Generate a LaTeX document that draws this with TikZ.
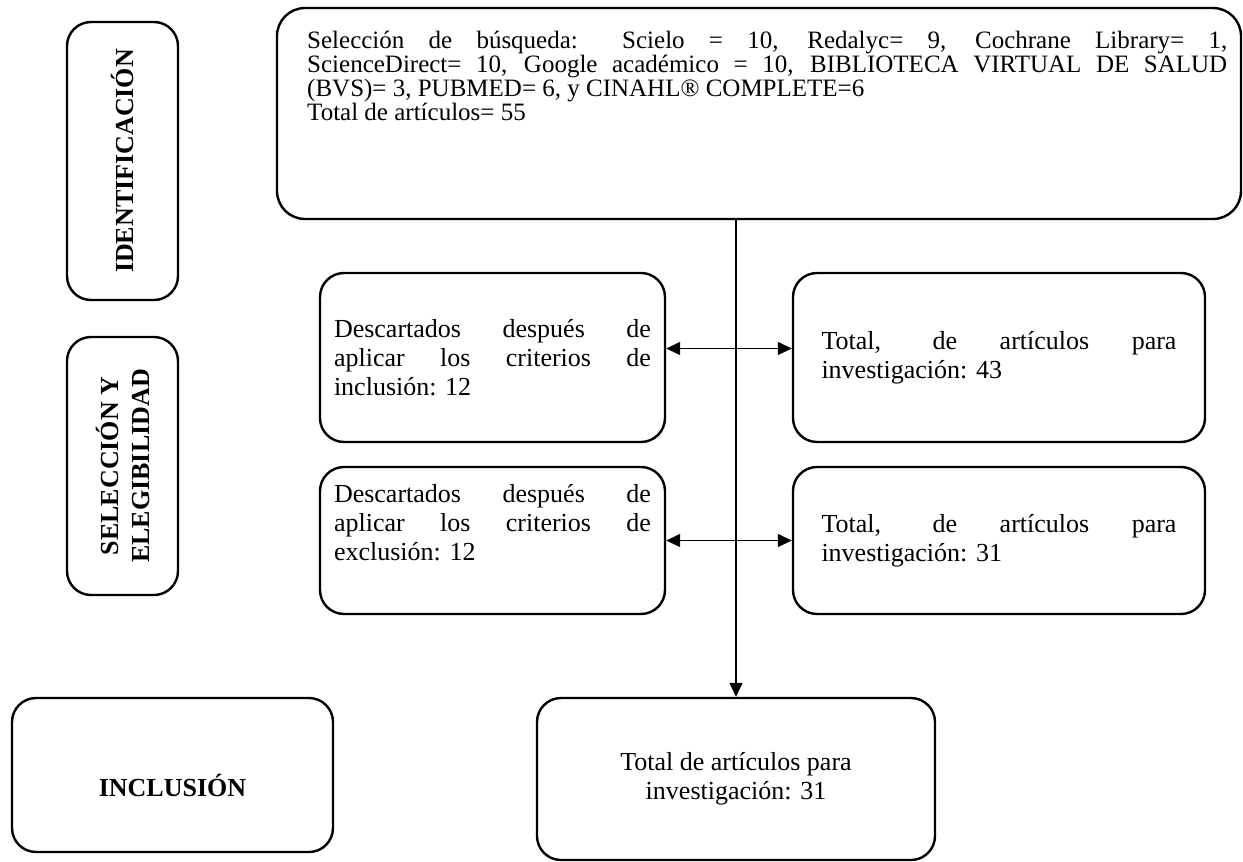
\documentclass[tikz,border=0pt]{standalone}
\usepackage{fontspec}
\setmainfont{Liberation Serif}
\usetikzlibrary{positioning, arrows.meta}
\newcommand{\ux}{0.5pt}

\begin{document}
\begin{tikzpicture}[
        x=0.5pt, y=-0.5pt,
        frame/.style={draw, line width=1.2pt, rounded corners=12pt, inner sep=0pt},
        stagebox/.style={frame, align=center, font=\bfseries\fontsize{13}{15.5}\selectfont},
        infobox/.style={frame, align=justify, font=\fontsize{13}{14.5}\selectfont},
        arrow/.style={-{Triangle[length=7pt, width=6.5pt]}, line width=0.7pt},
        biarrow/.style={{Triangle[length=7pt, width=6.5pt]}-{Triangle[length=7pt, width=6.5pt]}, line width=0.7pt}
    ]
    \useasboundingbox (0,0) rectangle (1243,862);

    % Stages on the left
    \node[stagebox, rotate=90, minimum width=278*\ux, minimum height=111*\ux] (ident) at (122.5,161) {IDENTIFICACIÓN};
    \node[stagebox, rotate=90, minimum width=258*\ux, minimum height=111*\ux] (selec) at (122.5,466) {SELECCIÓN Y\\ELEGIBILIDAD};
    \node[stagebox, minimum width=321*\ux, minimum height=154*\ux, text height=21pt, text depth=0pt] (inclu) at (172.5,775) {INCLUSIÓN};

    % Search box
    \node[frame, rounded corners=14pt, minimum width=964*\ux, minimum height=211*\ux] (topbox) at (759,113.5) {};
    \node[anchor=north west, align=justify, inner sep=0pt, text width=920*\ux, font=\fontsize{12.5}{12}\selectfont] (toptext)
        at ([xshift=15.5pt, yshift=-12pt]topbox.north west)
        {Selección de búsqueda: Scielo = 10, Redalyc= 9, Cochrane Library= 1,\linebreak
         ScienceDirect= 10, Google académico = 10, BIBLIOTECA VIRTUAL DE SALUD\linebreak
         (BVS)= 3, PUBMED= 6, y CINAHL® COMPLETE=6\\
         Total de artículos= 55};

    % Filtering rows
    \node[infobox, minimum width=345*\ux, minimum height=169*\ux, inner xsep=14*\ux, text width=317*\ux] (desc1) at (492.5,357.5)
        {Descartados después de\linebreak aplicar los criterios de\linebreak inclusión: 12};
    \node[infobox, minimum width=412*\ux, minimum height=169*\ux, inner xsep=28.5*\ux, text width=355*\ux] (tot1) at (999,357.5)
        {Total, de artículos para\linebreak investigación: 43};
    \node[infobox, minimum width=345*\ux, minimum height=147*\ux, inner xsep=14*\ux, text width=317*\ux] (desc2) at (492.5,540.5)
        {Descartados después de\linebreak aplicar los criterios de\linebreak exclusión: 12\par\kern18pt};
    \node[infobox, minimum width=412*\ux, minimum height=147*\ux, inner xsep=28.5*\ux, text width=355*\ux] (tot2) at (999,540.5)
        {Total, de artículos para\linebreak investigación: 31};

    % Result
    \node[infobox, align=center, minimum width=398*\ux, minimum height=162*\ux] (final) at (736,779)
        {Total de artículos para\\investigación: 31};

    % Connectors
    \draw[arrow] (topbox.south -| final.north) -- (final.north);
    \draw[biarrow] ([yshift=4.5pt]desc1.east) -- ([yshift=4.5pt]tot1.west);
    \draw[biarrow] (desc2.east) -- (tot2.west);

\end{tikzpicture}
\end{document}
